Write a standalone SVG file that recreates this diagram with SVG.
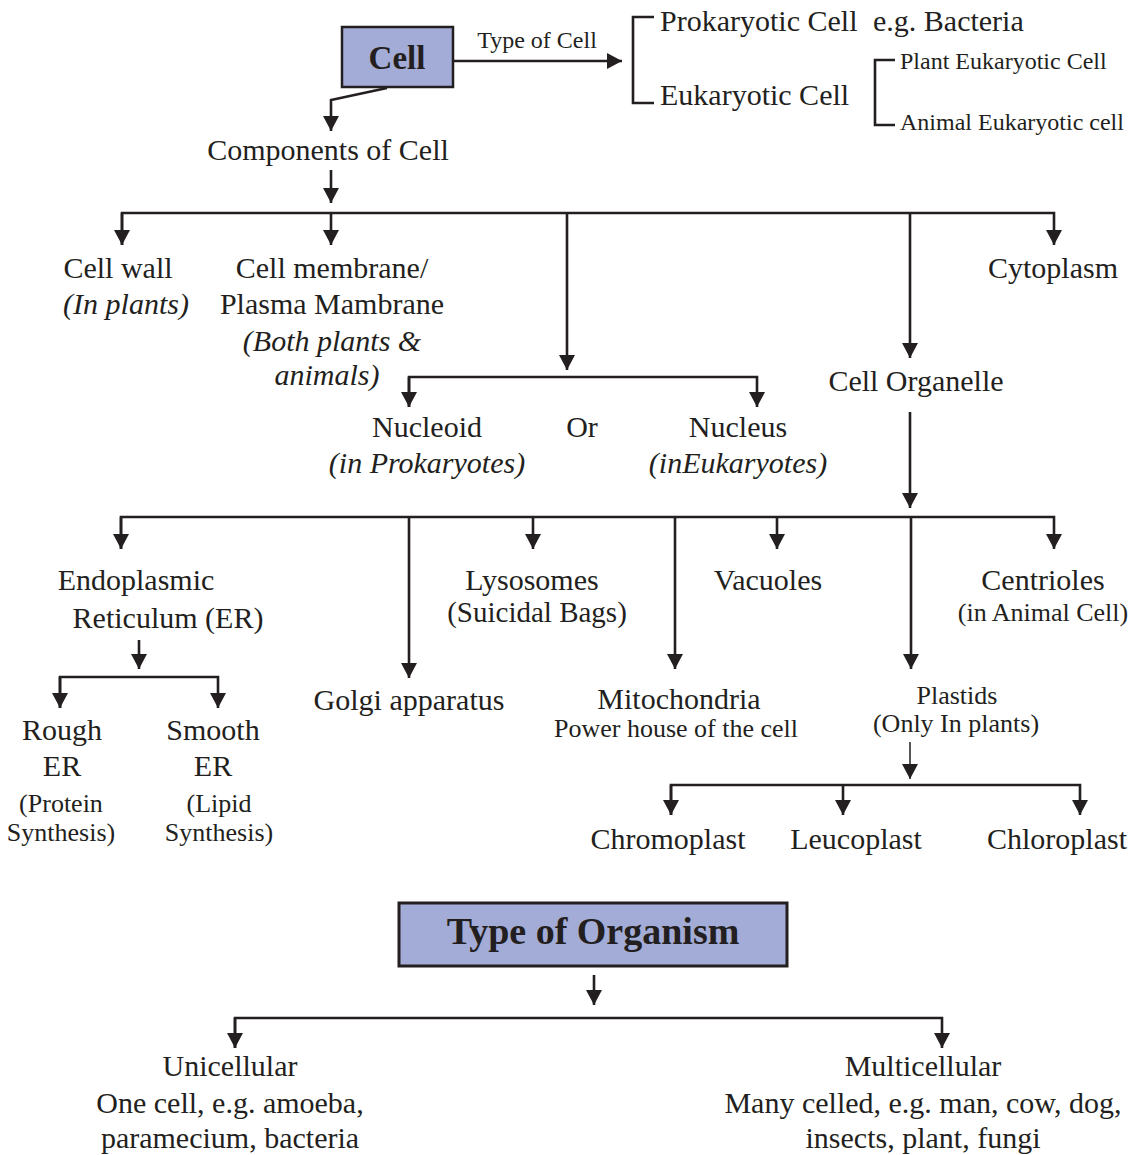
<svg xmlns="http://www.w3.org/2000/svg" width="1146" height="1155" viewBox="0 0 1146 1155">
<style>
text{font-family:"Liberation Serif","Times New Roman",serif;fill:#231f20;font-size:30px;text-anchor:middle}
.it{font-style:italic}
.s24{font-size:24px}
.s26{font-size:26px}
.s29{font-size:29px}
.l{text-anchor:start}
.b{font-weight:bold}
.box{fill:#a3acd6;stroke:#231f20;stroke-width:2.5}
.ln{fill:none;stroke:#231f20;stroke-width:2.6}
.thin{stroke-width:1.5}
</style>
<defs>
<marker id="ah" markerUnits="userSpaceOnUse" markerWidth="16" markerHeight="17" refX="15" refY="8" orient="auto">
<path d="M0,0 L15,8 L0,16 z" fill="#231f20"/>
</marker>
</defs>
<rect width="1146" height="1155" fill="#fff"/>
<g id="connectors">
<path class="ln" d="M453,61 H622" marker-end="url(#ah)"/>
<path class="ln" d="M654,17 H633 V103 H654"/>
<path class="ln" d="M895,60 H875 V125 H895"/>
<path class="ln" d="M387,88 L331,100 V131" marker-end="url(#ah)"/>
<path class="ln" d="M331,170 V203" marker-end="url(#ah)"/>
<path class="ln" d="M122,245 V213 H1054 V245" marker-end="url(#ah)"/>
<path class="ln" d="M122,213 V245" marker-end="url(#ah)"/>
<path class="ln" d="M331,213 V245" marker-end="url(#ah)"/>
<path class="ln" d="M567,213 V370" marker-end="url(#ah)"/>
<path class="ln" d="M910,213 V358" marker-end="url(#ah)"/>
<path class="ln" d="M409,407 V377 H757 V407" marker-end="url(#ah)"/>
<path class="ln" d="M409,377 V407" marker-end="url(#ah)"/>
<path class="ln" d="M910,412 V508" marker-end="url(#ah)"/>
<path class="ln" d="M121,549 V517 H1054 V549" marker-end="url(#ah)"/>
<path class="ln" d="M121,517 V549" marker-end="url(#ah)"/>
<path class="ln" d="M409,517 V678" marker-end="url(#ah)"/>
<path class="ln" d="M533,517 V549" marker-end="url(#ah)"/>
<path class="ln" d="M675,517 V669" marker-end="url(#ah)"/>
<path class="ln" d="M777,517 V549" marker-end="url(#ah)"/>
<path class="ln" d="M911,517 V669" marker-end="url(#ah)"/>
<path class="ln" d="M139,640 V669" marker-end="url(#ah)"/>
<path class="ln" d="M60,708 V677 H218 V708" marker-end="url(#ah)"/>
<path class="ln" d="M60,677 V708" marker-end="url(#ah)"/>
<path class="ln thin" d="M910,742 V779" marker-end="url(#ah)"/>
<path class="ln" d="M671,815 V785 H1080 V815" marker-end="url(#ah)"/>
<path class="ln" d="M671,785 V815" marker-end="url(#ah)"/>
<path class="ln" d="M843,785 V815" marker-end="url(#ah)"/>
<path class="ln" d="M594,975 V1005" marker-end="url(#ah)"/>
<path class="ln" d="M235,1048 V1018 H942 V1048" marker-end="url(#ah)"/>
<path class="ln" d="M235,1018 V1048" marker-end="url(#ah)"/>
<text x="537" y="48" class="s24">Type of Cell</text>
</g>
<g id="cell">
<rect class="box" x="342" y="27" width="111" height="60"/>
<text x="397" y="69" class="b" style="font-size:33px">Cell</text>
</g>
<g id="prokaryotic"><text x="660" y="31" class="l">Prokaryotic Cell</text><text x="873" y="31" class="l">e.g. Bacteria</text></g>
<g id="eukaryotic"><text x="660" y="105" class="l">Eukaryotic Cell</text></g>
<g id="plant-euk"><text x="900" y="69" class="l s24">Plant Eukaryotic Cell</text></g>
<g id="animal-euk"><text x="900" y="130" class="l s24">Animal Eukaryotic cell</text></g>
<g id="components"><text x="328" y="160">Components of Cell</text></g>
<g id="cell-wall"><text x="118" y="278">Cell wall</text><text x="126" y="314" class="it">(In plants)</text></g>
<g id="cell-membrane"><text x="332" y="278">Cell membrane/</text><text x="332" y="314">Plasma Mambrane</text><text x="332" y="351" class="it">(Both plants &amp;</text><text x="327" y="385" class="it">animals)</text></g>
<g id="cytoplasm"><text x="1053" y="278">Cytoplasm</text></g>
<g id="cell-organelle"><text x="916" y="391">Cell Organelle</text></g>
<g id="nucleoid"><text x="427" y="437">Nucleoid</text><text x="427" y="473" class="it">(in Prokaryotes)</text></g>
<g id="or"><text x="582" y="437">Or</text></g>
<g id="nucleus"><text x="738" y="437">Nucleus</text><text x="738" y="473" class="it">(inEukaryotes)</text></g>
<g id="er"><text x="136" y="590">Endoplasmic</text><text x="168" y="628">Reticulum (ER)</text></g>
<g id="rough-er"><text x="62" y="740">Rough</text><text x="62" y="776">ER</text><text x="61" y="812" class="s26">(Protein</text><text x="61" y="841" class="s26">Synthesis)</text></g>
<g id="smooth-er"><text x="213" y="740">Smooth</text><text x="213" y="776">ER</text><text x="219" y="812" class="s26">(Lipid</text><text x="219" y="841" class="s26">Synthesis)</text></g>
<g id="golgi"><text x="409" y="710">Golgi apparatus</text></g>
<g id="lysosomes"><text x="532" y="590">Lysosomes</text><text x="537" y="622" class="s29">(Suicidal Bags)</text></g>
<g id="vacuoles"><text x="768" y="590">Vacuoles</text></g>
<g id="centrioles"><text x="1043" y="590">Centrioles</text><text x="1043" y="621" class="s26">(in Animal Cell)</text></g>
<g id="mitochondria"><text x="679" y="709">Mitochondria</text><text x="676" y="737" class="s26">Power house of the cell</text></g>
<g id="plastids"><text x="957" y="704" class="s26">Plastids</text><text x="956" y="732" class="s26">(Only In plants)</text></g>
<g id="chromoplast"><text x="668" y="849">Chromoplast</text></g>
<g id="leucoplast"><text x="856" y="849">Leucoplast</text></g>
<g id="chloroplast"><text x="1057" y="849">Chloroplast</text></g>
<g id="type-of-organism">
<rect class="box" x="399" y="903" width="388" height="63" style="stroke-width:3"/>
<text x="593" y="944" class="b" style="font-size:38px">Type of Organism</text>
</g>
<g id="unicellular"><text x="230" y="1076">Unicellular</text><text x="230" y="1113">One cell, e.g. amoeba,</text><text x="230" y="1148">paramecium, bacteria</text></g>
<g id="multicellular"><text x="923" y="1076">Multicellular</text><text x="923" y="1113">Many celled, e.g. man, cow, dog,</text><text x="923" y="1148">insects, plant, fungi</text></g>
</svg>
